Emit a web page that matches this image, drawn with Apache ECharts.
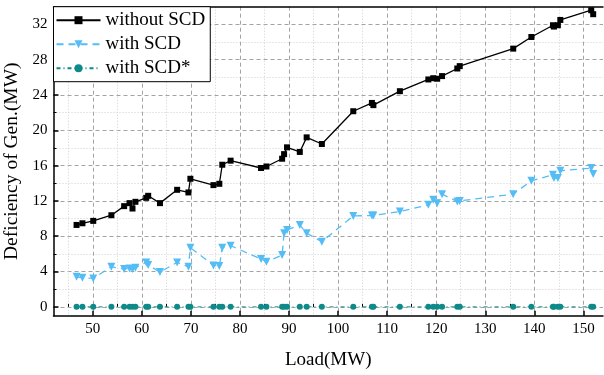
<!DOCTYPE html>
<html>
<head>
<meta charset="utf-8">
<script src="https://cdn.jsdelivr.net/npm/echarts@6/dist/echarts.min.js"></script>
<style>
  html, body { margin: 0; padding: 0; background: #fff; }
  #chart { width: 604px; height: 375px; }
</style>
</head>
<body>
<div id="chart"></div>
<script>
// load points (MW), shared by all three series
const loads = [46.7, 47.9, 50.1, 53.8, 56.4, 57.5, 58.1, 58.7, 60.9, 61.3, 63.7, 67.2, 69.5, 69.9,
  74.6, 75.8, 76.4, 78.1, 84.3, 85.4, 88.6, 89.0, 89.6, 92.2, 93.6, 96.7, 103.1, 106.9, 107.2,
  112.6, 118.4, 119.4, 120.2, 121.2, 124.3, 124.8, 135.7, 139.4, 143.8, 144.0, 144.8, 145.3, 151.6, 152.0];

const withoutSCD = [9.28, 9.47, 9.74, 10.38, 11.41, 11.75, 11.14, 11.9, 12.35, 12.58, 11.75, 13.26, 12.96, 14.51,
  13.79, 13.94, 16.1, 16.56, 15.73, 15.9, 16.78, 17.3, 18.07, 17.55, 19.2, 18.45, 22.16, 23.1, 22.85,
  24.43, 25.76, 25.9, 25.84, 26.14, 27.0, 27.27, 29.25, 30.57, 31.9, 31.75, 31.9, 32.5, 33.6, 33.15];

const withSCD = [3.41, 3.30, 3.22, 4.55, 4.28, 4.36, 4.28, 4.43, 5.04, 4.74, 3.94, 5.04, 4.55, 6.70,
  4.70, 4.62, 6.70, 6.93, 5.42, 5.11, 5.87, 8.34, 8.72, 9.28, 8.34, 7.39, 10.3, 10.34, 10.34,
  10.8, 11.56, 12.13, 11.75, 12.77, 11.93, 12.0, 12.77, 14.28, 14.97, 14.59, 14.59, 15.42, 15.72, 15.04];

const withSCDStar = [0, 0, 0, 0, 0, 0, 0, 0, 0, 0, 0, 0, 0, 0,
  0, 0, 0, 0, 0, 0, 0, 0, 0, 0, 0, 0, 0, 0, 0,
  0, 0, 0, 0, 0, 0, 0, 0, 0, 0, 0, 0, 0, 0, 0];

const xMajorTicks = [50, 60, 70, 80, 90, 100, 110, 120, 130, 140, 150];
const xMinorTicks = [45, 55, 65, 75, 85, 95, 105, 115, 125, 135, 145];
const yMajorTicks = [0, 4, 8, 12, 16, 20, 24, 28, 32];
const yMinorTicks = [2, 6, 10, 14, 18, 22, 26, 30];

const font = "'Liberation Serif', 'Times New Roman', serif";
const pairs = (ys) => loads.map((x, i) => [x, ys[i]]);

const chart = echarts.init(document.getElementById("chart"), null, { renderer: "canvas" });

const majorGrid = { show: true, lineStyle: { color: "#a3a3a3", type: [4, 3], width: 1 } };
const minorGrid = { show: true, lineStyle: { color: "#cfcfcf", type: [1, 2], width: 1 } };

chart.setOption({
  animation: false,
  grid: { left: 53.5, right: 1, top: 6.7, bottom: 59.3, containLabel: false, outerBoundsMode: "none" },
  legend: {
    orient: "vertical",
    left: 53.5,
    top: 6.7,
    padding: [4, 5, 4, 2],
    itemGap: 5,
    itemWidth: 44,
    itemHeight: 10,
    backgroundColor: "#fff",
    borderColor: "#000",
    borderWidth: 1,
    borderRadius: 0,
    textStyle: { fontFamily: font, fontSize: 19, color: "#000", padding: [0, 0, 0, 0] },
    data: ["without SCD", "with SCD", "with SCD*"],
  },
  xAxis: [
    {
      type: "value",
      min: 42,
      max: 154,
      position: "bottom",
      name: "Load(MW)",
      nameLocation: "middle",
      nameGap: 35,
      nameTextStyle: { fontFamily: font, fontSize: 19, color: "#000" },
      axisLine: { show: true, onZero: false, lineStyle: { color: "#000", width: 1.5 } },
      axisTick: { show: true, inside: true, length: 5, customValues: xMajorTicks, lineStyle: { color: "#000", width: 1.5 } },
      axisLabel: { customValues: xMajorTicks, fontFamily: font, fontSize: 15, color: "#000", margin: 6 },
      splitLine: majorGrid,
    },
    {
      type: "value",
      min: 42,
      max: 154,
      position: "bottom",
      axisLine: { show: false },
      axisTick: { show: true, inside: true, length: 3, customValues: xMinorTicks, lineStyle: { color: "#000", width: 1 } },
      axisLabel: { show: false },
      splitLine: minorGrid,
    },
    {
      type: "value",
      min: 42,
      max: 154,
      position: "top",
      axisLine: { show: true, onZero: false, lineStyle: { color: "#000", width: 1.5 } },
      axisTick: { show: false },
      axisLabel: { show: false },
      splitLine: { show: false },
    },
  ],
  yAxis: [
    {
      type: "value",
      min: -1,
      max: 34,
      position: "left",
      name: "Deficiency of Gen.(MW)",
      nameLocation: "middle",
      nameGap: 27.5,
      nameTextStyle: { fontFamily: font, fontSize: 19.5, color: "#000" },
      axisLine: { show: true, onZero: false, lineStyle: { color: "#000", width: 1.5 } },
      axisTick: { show: true, inside: true, length: 5, customValues: yMajorTicks, lineStyle: { color: "#000", width: 1.5 } },
      axisLabel: { customValues: yMajorTicks, fontFamily: font, fontSize: 15, color: "#000", margin: 6 },
      splitLine: majorGrid,
    },
    {
      type: "value",
      min: -1,
      max: 34,
      position: "left",
      axisLine: { show: false },
      axisTick: { show: true, inside: true, length: 3, customValues: yMinorTicks, lineStyle: { color: "#000", width: 1 } },
      axisLabel: { show: false },
      splitLine: minorGrid,
    },
  ],
  series: [
    {
      name: "without SCD",
      type: "line",
      data: pairs(withoutSCD),
      symbol: "rect",
      symbolSize: 6,
      itemStyle: { color: "#000" },
      lineStyle: { color: "#000", width: 1.3 },
      z: 4,
    },
    {
      name: "with SCD",
      type: "line",
      data: pairs(withSCD),
      symbol: "triangle",
      symbolRotate: 180,
      symbolSize: 8,
      itemStyle: { color: "#55bdf5" },
      lineStyle: { color: "#55bdf5", width: 1.3, type: [7, 5] },
      z: 3,
    },
    {
      name: "with SCD*",
      type: "line",
      data: pairs(withSCDStar),
      symbol: "circle",
      symbolSize: 6,
      itemStyle: { color: "#0f8a8a" },
      lineStyle: { color: "#0f8a8a", width: 1, type: [4, 3, 1, 3] },
      z: 3,
    },
  ],
});
</script>
</body>
</html>
